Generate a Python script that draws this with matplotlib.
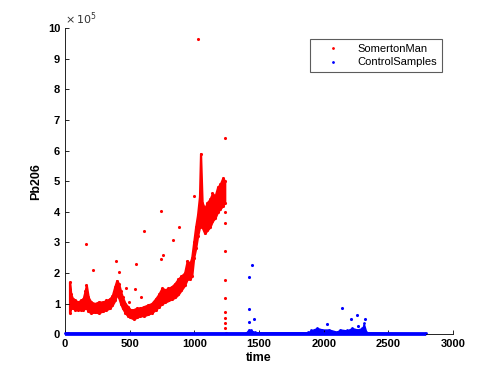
import matplotlib
matplotlib.use("Agg")
import matplotlib.pyplot as plt

# Pb206 counts, in units of 1e5
# SomertonMan main band: time, lower edge, upper edge
red_t = [35, 45, 60, 80, 100, 120, 140, 155, 165, 180, 200, 230, 260, 290, 320, 345,
         365, 385, 400, 415, 430, 445, 465, 485, 505, 530, 555, 580, 610, 640, 670,
         700, 725, 750, 775, 800, 825, 850, 875, 900, 925, 945, 965, 980, 995, 1010,
         1025, 1040, 1048, 1060, 1080, 1100, 1120, 1140, 1160, 1180, 1200, 1220, 1235]
red_lo = [0.7, 0.85, 0.85, 0.8, 0.8, 0.8, 0.8, 0.85, 0.85, 0.75, 0.7, 0.72, 0.7, 0.75,
          0.8, 0.85, 0.95, 1.1, 1.3, 1.2, 1.0, 0.85, 0.7, 0.6, 0.55, 0.5, 0.55, 0.6,
          0.6, 0.65, 0.7, 0.8, 0.9, 1.0, 1.05, 1.1, 1.15, 1.2, 1.3, 1.45, 1.6, 1.8,
          1.8, 1.9, 2.5, 2.8, 3.2, 3.5, 3.7, 3.5, 3.3, 3.4, 3.5, 3.7, 3.8, 4.0, 4.1,
          4.2, 4.3]
red_hi = [1.7, 1.3, 1.15, 1.1, 1.05, 1.1, 1.15, 1.4, 1.6, 1.2, 1.05, 1.0, 1.05, 1.05,
          1.1, 1.15, 1.25, 1.55, 1.75, 1.65, 1.4, 1.2, 1.0, 0.9, 0.8, 0.8, 0.85, 0.85,
          0.9, 0.95, 1.0, 1.15, 1.3, 1.5, 1.45, 1.5, 1.55, 1.65, 1.8, 1.9, 2.0, 2.4,
          2.3, 2.5, 3.0, 3.5, 3.9, 4.5, 5.9, 4.3, 4.1, 4.3, 4.4, 4.6, 4.5, 4.8, 4.9,
          5.1, 5.0]
# SomertonMan isolated points
red_out_t = [162, 218, 397, 415, 469, 495, 541, 551, 585, 610, 744, 744, 756, 833, 885,
             997, 1031, 1237, 1237, 1237, 1237, 1237, 1237, 1237, 1237, 1237, 1237, 25, 1245]
red_out_v = [2.96, 2.1, 2.39, 2.03, 1.5, 1.06, 1.47, 2.28, 1.2, 3.37, 4.01, 2.46, 2.6,
             3.07, 3.5, 4.53, 9.66, 6.41, 4.0, 3.64, 2.71, 1.76, 1.17, 0.73, 0.52, 0.36,
             0.2, 0.03, 0.03]

# ControlSamples band: time, upper edge (lower edge is 0)
blue_t = [0, 1400, 1420, 1440, 1470, 1880, 1900, 1950, 1990, 2040, 2100, 2130, 2180,
          2220, 2260, 2300, 2310, 2330, 2790]
blue_hi = [0.05, 0.05, 0.15, 0.12, 0.06, 0.06, 0.12, 0.2, 0.15, 0.15, 0.08, 0.15, 0.12,
           0.2, 0.15, 0.2, 0.35, 0.06, 0.04]
blue_out_t = [1447, 1421, 1421, 1421, 1458, 2143, 2214, 2254, 2024, 2320, 2267]
blue_out_v = [2.27, 1.88, 0.82, 0.39, 0.5, 0.84, 0.49, 0.64, 0.34, 0.48, 0.26]

plt.rcParams['font.family'] = ['Liberation Sans', 'DejaVu Sans']
plt.rcParams['font.size'] = 8

fig = plt.figure(figsize=(5, 3.75), dpi=100)
ax = fig.add_axes([0.13, 0.109, 0.776, 0.816])

red = '#ff0000'
blue = '#0000ff'

# thick edge so the band reads like a cloud of dots
ax.fill_between(red_t, red_lo, red_hi, facecolor=red, edgecolor=red, lw=1.6)
ax.scatter(red_t, red_lo, s=5, color=red, lw=0)
ax.scatter(red_t, red_hi, s=5, color=red, lw=0)
ax.scatter(red_out_t, red_out_v, s=5, color=red, lw=0)

ax.fill_between(blue_t, 0, blue_hi, facecolor=blue, edgecolor=blue, lw=1.0, clip_on=False)
ax.plot(blue_t, [0.02] * len(blue_t), color=blue, lw=2.6, solid_capstyle='butt',
        clip_on=False, zorder=3)
ax.scatter(blue_t, blue_hi, s=4, color=blue, lw=0, clip_on=False)
ax.scatter(blue_out_t, blue_out_v, s=5, color=blue, lw=0)

# legend proxies
ax.plot([], [], '.', color=red, ms=2, label='SomertonMan')
ax.plot([], [], '.', color=blue, ms=2, label='ControlSamples')
leg = ax.legend(loc='upper right', bbox_to_anchor=(0.972, 0.964), borderaxespad=0,
                frameon=True, fancybox=False, edgecolor='#333333', handlelength=3.2,
                handletextpad=0.6, borderpad=0.45, labelspacing=0.3, fontsize=8)
leg.get_frame().set_linewidth(0.8)

ax.set_xlim(0, 3000)
ax.set_ylim(0, 10)
ax.set_xticks(range(0, 3001, 500))
ax.set_yticks(range(0, 11))
ax.tick_params(direction='in', length=3, width=0.6, labelsize=8)
for lab in ax.get_xticklabels() + ax.get_yticklabels():
    lab.set_fontweight('bold')
ax.spines['top'].set_visible(False)
ax.spines['right'].set_visible(False)
ax.spines['left'].set_linewidth(0.6)
ax.spines['bottom'].set_linewidth(0.6)

ax.set_xlabel('time', fontweight='bold', fontsize=9, labelpad=2)
ax.set_ylabel('Pb206', fontweight='bold', fontsize=9, labelpad=4)
ax.text(0.0, 1.005, r'$\times\,10^{5}$', transform=ax.transAxes, fontsize=8,
        ha='left', va='bottom', color='#333333')

fig.savefig('out.png', dpi=100)
